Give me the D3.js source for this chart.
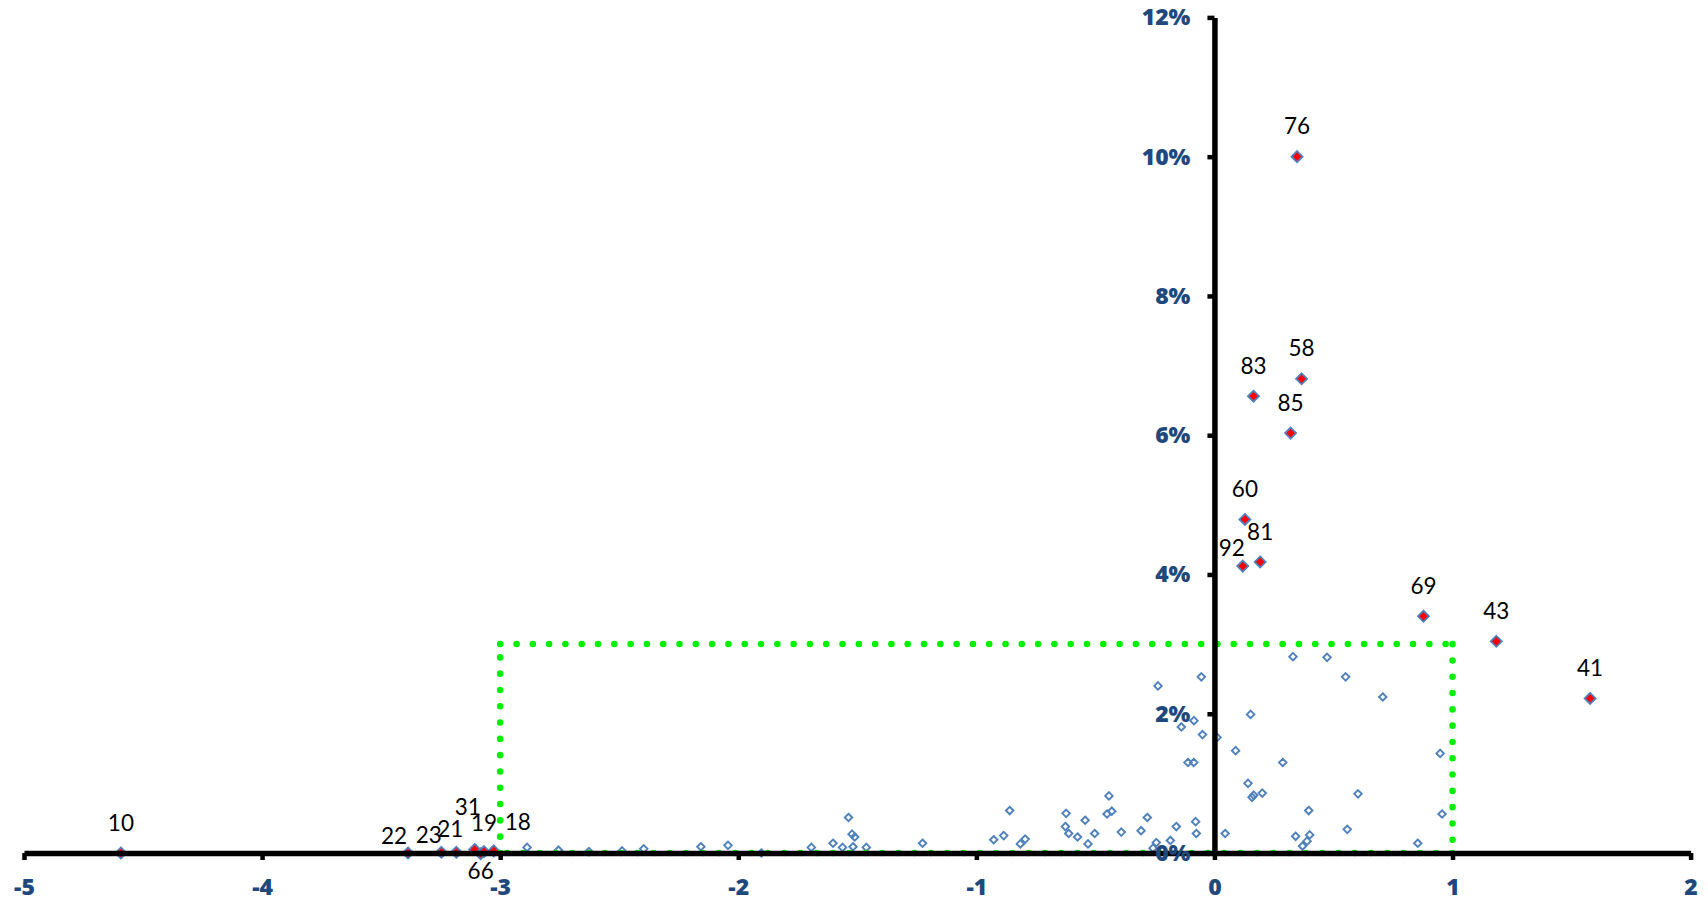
<!DOCTYPE html>
<html>
<head>
<meta charset="utf-8">
<script src="https://cdn.jsdelivr.net/npm/d3@7"></script>
<style>
  html, body { margin: 0; padding: 0; background: #ffffff; }
  svg { display: block; }
</style>
</head>
<body>
<svg id="chart" width="1708" height="905"></svg>
<script>
// ---------- data ----------
const xTicks = [-5, -4, -3, -2, -1, 0, 1, 2];
const yTicks = [0, 0.02, 0.04, 0.06, 0.08, 0.10, 0.12];

// labelled outliers (id, x, y)
const outlierIds = ["10","22","23","21","31","66","19","18","92","60","81","83","85","58","76","69","43","41"];
const outlierX   = [-4.593,-3.387,-3.247,-3.184,-3.107,-3.082,-3.068,-3.027,0.119,0.128,0.192,0.164,0.320,0.366,0.347,0.878,1.184,1.578];
const outlierY   = [0.0000,0.0000,0.0001,0.0001,0.0005,-0.0001,0.0002,0.0003,0.0412,0.0479,0.0418,0.0656,0.0603,0.0681,0.1000,0.0340,0.0304,0.0222];

// other observations
const pointX = [
  -3.072,-2.887,-2.755,-2.627,-2.488,-2.397,-2.157,-2.043,-1.903,-1.693,-1.602,-1.562,-1.537,-1.522,-1.511,-1.518,-1.462,
  -1.226,-0.927,-0.885,-0.860,-0.815,-0.795,-0.623,-0.626,-0.612,-0.575,-0.543,-0.531,-0.503,
  -0.443,-0.451,-0.431,-0.391,-0.308,-0.282,-0.258,-0.244,-0.185,-0.160,-0.079,-0.076,
  -0.237,-0.055,-0.086,-0.139,-0.050,0.011,0.152,0.089,-0.111,-0.087,0.287,
  0.330,0.473,0.551,0.707,0.948,0.956,0.854,0.141,0.158,0.165,0.201,0.603,0.396,0.558,0.341,0.400,0.389,0.370,0.045
];
const pointY = [
  0.0001,0.0008,0.0004,0.0002,0.0003,0.0006,0.0009,0.0011,0.0000,0.0008,0.0014,0.0008,0.0051,0.0027,0.0023,0.0009,0.0008,
  0.0014,0.0019,0.0025,0.0061,0.0013,0.0020,0.0057,0.0038,0.0028,0.0023,0.0047,0.0013,0.0028,
  0.0082,0.0056,0.0060,0.0030,0.0032,0.0051,0.0007,0.0015,0.0018,0.0038,0.0045,0.0028,
  0.0240,0.0253,0.0190,0.0181,0.0170,0.0166,0.0199,0.0147,0.0130,0.0130,0.0130,
  0.0282,0.0281,0.0253,0.0224,0.0143,0.0056,0.0014,0.0100,0.0080,0.0083,0.0086,0.0085,0.0061,0.0034,0.0024,0.0026,0.0017,0.0010,0.0028
];

// highlighted region: x from -3 to 1, y from 0 to 3%
const boxX = [-3, 1];
const boxY = [0, 0.03];

// ---------- layout ----------
const svg = d3.select("#chart");
const x = d3.scaleLinear().domain([-5, 2]).range([24, 1690.6]);
const y = d3.scaleLinear().domain([0, 0.12]).range([853, 17.4]);

const axisColor = "#000000";
const tickTextColor = "#1F497D";
const tickFont = "'Open Sans', 'Liberation Sans', Arial, sans-serif";
const labelFont = "Lato, 'Liberation Sans', Arial, sans-serif";

// label nudges (pixels) for crowded labels
const labelNudge = {
  "92": [-11, -18.5], "22": [-14, -17], "23": [-12.5, -17], "21": [-6, -23],
  "31": [-7, -43], "19": [0, -29], "18": [24, -29], "66": [0, 17]
};
const defaultNudge = [0, -30.5];

// ---------- axes ----------
const xAxis = d3.axisBottom(x)
  .tickValues(xTicks)
  .tickSize(7)
  .tickSizeOuter(0)
  .tickPadding(19)
  .tickFormat(d => String(d));

const yAxis = d3.axisLeft(y)
  .tickValues(yTicks)
  .tickSize(7)
  .tickSizeOuter(0)
  .tickPadding(17)
  .tickFormat(d3.format(".0%"));

const gx = svg.append("g").attr("transform", `translate(0,${y(0)})`).call(xAxis);
const gy = svg.append("g").attr("transform", `translate(${x(0)},0)`).call(yAxis);

[gx, gy].forEach(g => {
  g.select(".domain").attr("stroke", axisColor).attr("stroke-width", 5.5);
  g.selectAll(".tick line").attr("stroke", axisColor).attr("stroke-width", 4.5);
  g.selectAll(".tick text")
    .attr("fill", tickTextColor)
    .attr("font-family", tickFont)
    .attr("font-weight", 800)
    .attr("font-size", 23);
});

// ---------- points ----------
const diamond = d3.symbol().type(d3.symbolDiamond2);

const others = pointX.map((v, i) => ({ x: v, y: pointY[i] }));
svg.append("g").selectAll("path").data(others).join("path")
  .attr("d", diamond.size(36)())
  .attr("transform", d => `translate(${x(d.x)},${y(d.y)})`)
  .attr("fill", "none")
  .attr("stroke", "#4F81BD")
  .attr("stroke-width", 1.9);

const outliers = outlierIds.map((id, i) => ({ id, x: outlierX[i], y: outlierY[i] }));
svg.append("g").selectAll("path").data(outliers).join("path")
  .attr("d", diamond.size(78)())
  .attr("transform", d => `translate(${x(d.x)},${y(d.y)})`)
  .attr("fill", "#FF0000")
  .attr("stroke", "#4F81BD")
  .attr("stroke-width", 1.8);

// ---------- highlighted box ----------
const bx0 = x(boxX[0]), bx1 = x(boxX[1]), by0 = y(boxY[0]), by1 = y(boxY[1]);
const boxSides = [
  [[bx0, by1], [bx1, by1]],
  [[bx1, by1], [bx1, by0]],
  [[bx1, by0], [bx0, by0]],
  [[bx0, by0], [bx0, by1]]
];
svg.append("g").selectAll("path").data(boxSides).join("path")
  .attr("d", d => d3.line()(d))
  .attr("fill", "none")
  .attr("stroke", "#00F000")
  .attr("stroke-width", 6.5)
  .attr("stroke-linecap", "round")
  .attr("stroke-dasharray", "0.1 16.2");

// bring tick labels on top
gx.raise(); gy.raise();
gx.select(".domain").lower(); gy.select(".domain").lower();

// ---------- data labels ----------
svg.append("g").selectAll("text").data(outliers).join("text")
  .attr("x", d => x(d.x) + (labelNudge[d.id] || defaultNudge)[0])
  .attr("y", d => y(d.y) + (labelNudge[d.id] || defaultNudge)[1])
  .attr("dy", "0.36em")
  .attr("text-anchor", "middle")
  .attr("font-family", labelFont)
  .attr("font-size", 22.5)
  .attr("fill", "#000000")
  .text(d => d.id);
</script>
</body>
</html>
